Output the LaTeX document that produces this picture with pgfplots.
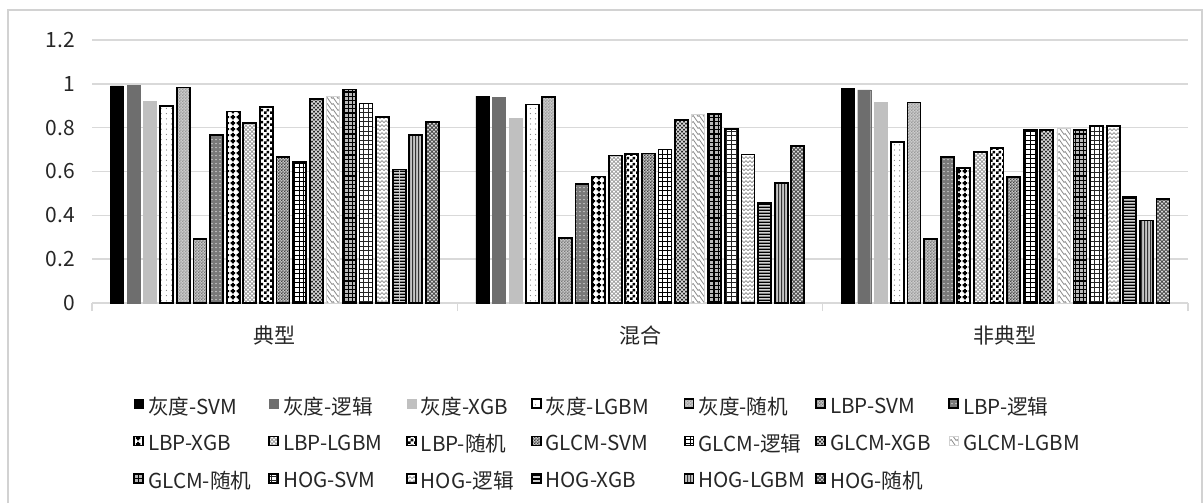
\documentclass[border=0pt]{standalone}
\usepackage{pgfplots}
\pgfplotsset{compat=1.18}
\usepackage{pgfplotstable}
\usepackage{fontspec}
\setmainfont{Noto Sans CJK SC}
\usetikzlibrary{patterns}
\definecolor{gmid}{HTML}{6E6E6E}
\definecolor{glight}{HTML}{C0C0C0}
\definecolor{gridc}{HTML}{D9D9D9}

\pgfdeclarepatternformonly{tinydots}{\pgfqpoint{-0.5pt}{-0.5pt}}{\pgfqpoint{0.5pt}{0.5pt}}{\pgfqpoint{2.6pt}{2.6pt}}{%
  \pgfpathcircle{\pgfqpoint{0pt}{0pt}}{0.32pt}\pgfusepath{fill}}
\pgfdeclarepatternformonly{sparsedots}{\pgfqpoint{-0.5pt}{-0.5pt}}{\pgfqpoint{0.5pt}{0.5pt}}{\pgfqpoint{2pt}{2pt}}{%
  \pgfpathcircle{\pgfqpoint{0pt}{0pt}}{0.4pt}\pgfusepath{fill}}
\pgfdeclarepatternformonly{smallcheck}{\pgfqpoint{0pt}{0pt}}{\pgfqpoint{3pt}{3pt}}{\pgfqpoint{3pt}{3pt}}{%
  \pgfpathrectangle{\pgfqpoint{0pt}{0pt}}{\pgfqpoint{1.5pt}{1.5pt}}%
  \pgfpathrectangle{\pgfqpoint{1.5pt}{1.5pt}}{\pgfqpoint{1.5pt}{1.5pt}}\pgfusepath{fill}}
\pgfdeclarepatternformonly{finecheck}{\pgfqpoint{0pt}{0pt}}{\pgfqpoint{1.6pt}{1.6pt}}{\pgfqpoint{1.6pt}{1.6pt}}{%
  \pgfpathrectangle{\pgfqpoint{0pt}{0pt}}{\pgfqpoint{0.8pt}{0.8pt}}%
  \pgfpathrectangle{\pgfqpoint{0.8pt}{0.8pt}}{\pgfqpoint{0.8pt}{0.8pt}}\pgfusepath{fill}}
\pgfdeclarepatternformonly{plusses}{\pgfqpoint{0pt}{0pt}}{\pgfqpoint{3.2pt}{3.2pt}}{\pgfqpoint{3.2pt}{3.2pt}}{%
  \pgfpathrectangle{\pgfqpoint{1.05pt}{0.4pt}}{\pgfqpoint{1.1pt}{2.4pt}}%
  \pgfpathrectangle{\pgfqpoint{0.4pt}{1.05pt}}{\pgfqpoint{2.4pt}{1.1pt}}\pgfusepath{fill}}
\pgfdeclarepatternformonly{smallgrid}{\pgfqpoint{-0.5pt}{-0.5pt}}{\pgfqpoint{2.8pt}{2.8pt}}{\pgfqpoint{2.3pt}{2.3pt}}{%
  \pgfsetlinewidth{0.35pt}%
  \pgfpathmoveto{\pgfqpoint{0pt}{0pt}}\pgfpathlineto{\pgfqpoint{0pt}{2.4pt}}%
  \pgfpathmoveto{\pgfqpoint{0pt}{0pt}}\pgfpathlineto{\pgfqpoint{2.4pt}{0pt}}\pgfusepath{stroke}}
\pgfdeclarepatternformonly{thickgrid}{\pgfqpoint{-0.6pt}{-0.6pt}}{\pgfqpoint{2.6pt}{2.6pt}}{\pgfqpoint{2.1pt}{2.1pt}}{%
  \pgfsetlinewidth{0.6pt}%
  \pgfpathmoveto{\pgfqpoint{0pt}{0pt}}\pgfpathlineto{\pgfqpoint{0pt}{2.2pt}}%
  \pgfpathmoveto{\pgfqpoint{0pt}{0pt}}\pgfpathlineto{\pgfqpoint{2.2pt}{0pt}}\pgfusepath{stroke}}
\pgfdeclarepatternformonly{finecross}{\pgfqpoint{-0.5pt}{-0.5pt}}{\pgfqpoint{2.5pt}{2.5pt}}{\pgfqpoint{2pt}{2pt}}{%
  \pgfsetlinewidth{0.35pt}%
  \pgfpathmoveto{\pgfqpoint{0pt}{0pt}}\pgfpathlineto{\pgfqpoint{2.1pt}{2.1pt}}%
  \pgfpathmoveto{\pgfqpoint{0pt}{2pt}}\pgfpathlineto{\pgfqpoint{2.1pt}{-0.1pt}}\pgfusepath{stroke}}
\pgfdeclarepatternformonly{wave}{\pgfqpoint{-0.3pt}{-0.3pt}}{\pgfqpoint{2.3pt}{2.3pt}}{\pgfqpoint{2pt}{2pt}}{%
  \pgfsetlinewidth{0.35pt}%
  \pgfpathmoveto{\pgfqpoint{0pt}{0.5pt}}\pgfpathlineto{\pgfqpoint{1pt}{1.5pt}}\pgfpathlineto{\pgfqpoint{2pt}{0.5pt}}\pgfusepath{stroke}}
\pgfdeclarepatternformonly{diagwave}{\pgfqpoint{-0.3pt}{-0.3pt}}{\pgfqpoint{3.3pt}{3.3pt}}{\pgfqpoint{3pt}{3pt}}{%
  \pgfsetlinewidth{0.4pt}%
  \pgfpathmoveto{\pgfqpoint{0pt}{3pt}}\pgfpathlineto{\pgfqpoint{1pt}{1.6pt}}\pgfpathlineto{\pgfqpoint{1.6pt}{2pt}}\pgfpathlineto{\pgfqpoint{3pt}{0pt}}\pgfusepath{stroke}}
\pgfdeclarepatternformonly{finehlines}{\pgfqpoint{0pt}{0pt}}{\pgfqpoint{100pt}{1.7pt}}{\pgfqpoint{100pt}{1.7pt}}{%
  \pgfsetlinewidth{0.75pt}%
  \pgfpathmoveto{\pgfqpoint{0pt}{0.4pt}}\pgfpathlineto{\pgfqpoint{100pt}{0.4pt}}\pgfusepath{stroke}}
\pgfdeclarepatternformonly{finevlines}{\pgfqpoint{0pt}{0pt}}{\pgfqpoint{1.6pt}{100pt}}{\pgfqpoint{1.6pt}{100pt}}{%
  \pgfsetlinewidth{0.6pt}%
  \pgfpathmoveto{\pgfqpoint{0.4pt}{0pt}}\pgfpathlineto{\pgfqpoint{0.4pt}{100pt}}\pgfusepath{stroke}}

\pgfplotstableread{
x s1 s2 s3 s4 s5 s6 s7 s8 s9 s10 s11 s12 s13 s14 s15 s16 s17 s18 s19 s20
0 0.991 0.993 0.919 0.900 0.983 0.291 0.766 0.874 0.822 0.893 0.665 0.644 0.932 0.942 0.974 0.910 0.849 0.609 0.766 0.825
1 0.944 0.939 0.843 0.906 0.941 0.298 0.543 0.577 0.673 0.679 0.682 0.700 0.834 0.860 0.863 0.793 0.678 0.455 0.546 0.718
2 0.979 0.973 0.915 0.735 0.915 0.292 0.665 0.616 0.689 0.708 0.575 0.790 0.790 0.797 0.790 0.808 0.808 0.484 0.376 0.475
}\data

\newcommand{\lgA}[1]{\makebox[58pt][l]{#1}}
\newcommand{\lgB}[1]{\makebox[59.5pt][l]{#1}}
\newcommand{\lgC}[1]{\makebox[53pt][l]{#1}}
\newcommand{\lgD}[1]{\makebox[67pt][l]{#1}}
\newcommand{\lgE}[1]{\makebox[56.5pt][l]{#1}}
\newcommand{\lgF}[1]{\makebox[57pt][l]{#1}}
\newcommand{\lgG}[1]{\makebox[60pt][l]{#1}}

\begin{document}
\begin{tikzpicture}
\begin{axis}[
  at={(0,0)}, anchor=south west,
  scale only axis,
  width=548pt, height=131.5pt,
  ybar=1.8pt, bar width=6.5pt,
  xmin=-0.5, xmax=2.5,
  ymin=0, ymax=1.2,
  ytick={0,0.2,...,1.2},
  yticklabels={0,0.2,0.4,0.6,0.8,1,1.2},
  xtick={0,1,2},
  xticklabels={典型,混合,非典型},
  extra x ticks={-0.5,0.5,1.5,2.5},
  extra x tick labels={},
  extra x tick style={major tick length=4pt, tick align=outside, tick style={gridc, line width=0.6pt}, grid=none},
  major tick length=0pt,
  axis lines*=left,
  x axis line style={gridc, line width=0.8pt},
  y axis line style={draw=none},
  ymajorgrids,
  grid style={gridc, line width=0.8pt},
  tick label style={font=\fontsize{10.5}{12}\selectfont, text=black!85},
  /pgf/number format/assume math mode=true,
  yticklabel style={xshift=-5pt},
  xticklabel style={yshift=-8pt},
  legend columns=7,
  legend cell align=left,
  legend style={at={(0.032,-0.325)}, anchor=north west, draw=none, fill=none,
    font=\fontsize{10.3}{12}\selectfont, text=black!85, row sep=4.5pt,
    /tikz/every even column/.append style={column sep=0pt}},
  legend image code/.code={\draw[#1] (0pt,-0.5pt) rectangle (4.5pt,4pt);},
  every axis plot/.append style={line width=0.9pt, draw=black},
]
\addplot[fill=black, draw=black, line width=0.2pt] table[x=x,y=s1]{\data};
\addlegendentry{\lgA{灰度-SVM}}
\addplot[fill=gmid, draw=gmid, line width=0.2pt] table[x=x,y=s2]{\data};
\addlegendentry{\lgB{灰度-逻辑}}
\addplot[fill=glight, draw=glight, line width=0.2pt] table[x=x,y=s3]{\data};
\addlegendentry{\lgC{灰度-XGB}}
\addplot[preaction={fill=white}, pattern=tinydots, pattern color=gray] table[x=x,y=s4]{\data};
\addlegendentry{\lgD{灰度-LGBM}}
\addplot[preaction={fill=gray!40}, pattern=finecheck, pattern color=gray!80] table[x=x,y=s5]{\data};
\addlegendentry{\lgE{灰度-随机}}
\addplot[preaction={fill=gray!45}, pattern=finecheck, pattern color=gray!95!black] table[x=x,y=s6]{\data};
\addlegendentry{\lgF{LBP-SVM}}
\addplot[preaction={fill=gray!95!black}, pattern=sparsedots, pattern color=gray!30] table[x=x,y=s7]{\data};
\addlegendentry{\lgG{LBP-逻辑}}
\addplot[preaction={fill=white}, pattern=plusses, pattern color=black] table[x=x,y=s8]{\data};
\addlegendentry{\lgA{LBP-XGB}}
\addplot[preaction={fill=white}, pattern=finecross, pattern color=gray!80] table[x=x,y=s9]{\data};
\addlegendentry{\lgB{LBP-LGBM}}
\addplot[preaction={fill=white}, pattern=smallcheck, pattern color=black] table[x=x,y=s10]{\data};
\addlegendentry{\lgC{LBP-随机}}
\addplot[preaction={fill=gray!45}, pattern=finecheck, pattern color=black!75] table[x=x,y=s11]{\data};
\addlegendentry{\lgD{GLCM-SVM}}
\addplot[preaction={fill=white}, pattern=smallgrid, pattern color=black] table[x=x,y=s12]{\data};
\addlegendentry{\lgE{GLCM-逻辑}}
\addplot[preaction={fill=black!85}, pattern=finecross, pattern color=white!85!gray] table[x=x,y=s13]{\data};
\addlegendentry{\lgF{GLCM-XGB}}
\addplot[preaction={fill=white}, draw=gray!35, line width=0.4pt, pattern=diagwave, pattern color=gray!90] table[x=x,y=s14]{\data};
\addlegendentry{\lgG{GLCM-LGBM}}
\addplot[preaction={fill=gray!55}, pattern=thickgrid, pattern color=black] table[x=x,y=s15]{\data};
\addlegendentry{\lgA{GLCM-随机}}
\addplot[preaction={fill=white}, pattern=smallgrid, pattern color=black!85] table[x=x,y=s16]{\data};
\addlegendentry{\lgB{HOG-SVM}}
\addplot[preaction={fill=white}, pattern=wave, pattern color=gray!90] table[x=x,y=s17]{\data};
\addlegendentry{\lgC{HOG-逻辑}}
\addplot[preaction={fill=gray!35}, pattern=finehlines, pattern color=black] table[x=x,y=s18]{\data};
\addlegendentry{\lgD{HOG-XGB}}
\addplot[preaction={fill=gray!45}, pattern=finevlines, pattern color=black!80] table[x=x,y=s19]{\data};
\addlegendentry{\lgE{HOG-LGBM}}
\addplot[preaction={fill=gray!30}, pattern=finecross, pattern color=black!75] table[x=x,y=s20]{\data};
\addlegendentry{\lgF{HOG-随机}}
\end{axis}
\draw[gray!35, line width=0.6pt] (-42pt,-100pt) -- (-42pt,146.5pt) -- (555pt,146.5pt) -- (555pt,-100pt);
\useasboundingbox (-46pt,-100pt) rectangle (555.5pt,151.5pt);
\end{tikzpicture}
\end{document}
